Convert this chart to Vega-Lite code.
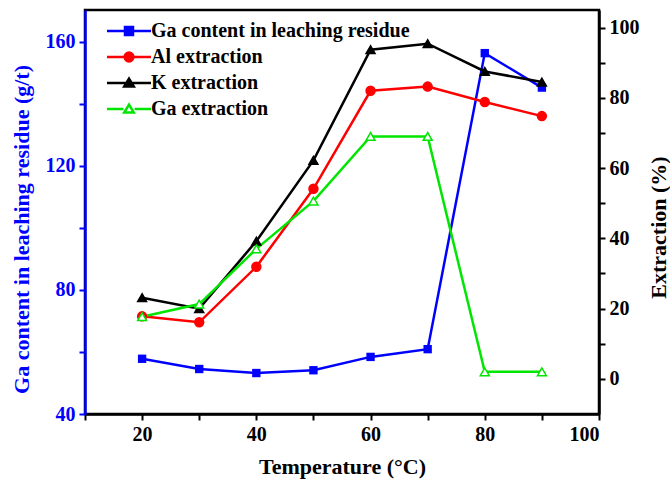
{
  "$schema": "https://vega.github.io/schema/vega-lite/v6.json",
  "width": 514,
  "height": 404,
  "autosize": "none",
  "padding": {"left": 85, "top": 10, "right": 71, "bottom": 72},
  "background": "white",
  "config": {
    "view": {"stroke": "black", "strokeWidth": 2.5},
    "font": "Liberation Serif",
    "axis": {"grid": false, "labelFont": "Liberation Serif", "titleFont": "Liberation Serif", "labelFontWeight": "bold", "titleFontWeight": "bold", "labelFontSize": 20, "titleFontSize": 22, "domainWidth": 2.5, "tickWidth": 2, "tickSize": 6}
  },
  "data": {
    "values": [
      {"T": 20, "series": "Ga content in leaching residue", "v": 57.8},
      {"T": 30, "series": "Ga content in leaching residue", "v": 54.5},
      {"T": 40, "series": "Ga content in leaching residue", "v": 53.2},
      {"T": 50, "series": "Ga content in leaching residue", "v": 54.1},
      {"T": 60, "series": "Ga content in leaching residue", "v": 58.4},
      {"T": 70, "series": "Ga content in leaching residue", "v": 60.9},
      {"T": 80, "series": "Ga content in leaching residue", "v": 156.3},
      {"T": 90, "series": "Ga content in leaching residue", "v": 145.2},
      {"T": 20, "series": "Al extraction", "v": 17.8},
      {"T": 30, "series": "Al extraction", "v": 16.1},
      {"T": 40, "series": "Al extraction", "v": 31.9},
      {"T": 50, "series": "Al extraction", "v": 54.1},
      {"T": 60, "series": "Al extraction", "v": 82.0},
      {"T": 70, "series": "Al extraction", "v": 83.2},
      {"T": 80, "series": "Al extraction", "v": 78.8},
      {"T": 90, "series": "Al extraction", "v": 74.8},
      {"T": 20, "series": "K extraction", "v": 23.1},
      {"T": 30, "series": "K extraction", "v": 20.0},
      {"T": 40, "series": "K extraction", "v": 39.2},
      {"T": 50, "series": "K extraction", "v": 62.2},
      {"T": 60, "series": "K extraction", "v": 93.7},
      {"T": 70, "series": "K extraction", "v": 95.4},
      {"T": 80, "series": "K extraction", "v": 87.5},
      {"T": 90, "series": "K extraction", "v": 84.5},
      {"T": 20, "series": "Ga extraction", "v": 17.7},
      {"T": 30, "series": "Ga extraction", "v": 21.3},
      {"T": 40, "series": "Ga extraction", "v": 37.0},
      {"T": 50, "series": "Ga extraction", "v": 50.6},
      {"T": 60, "series": "Ga extraction", "v": 69.0},
      {"T": 70, "series": "Ga extraction", "v": 69.0},
      {"T": 80, "series": "Ga extraction", "v": 2.0},
      {"T": 90, "series": "Ga extraction", "v": 2.0}
    ]
  },
  "encoding": {
    "x": {
      "field": "T", "type": "quantitative",
      "scale": {"domain": [10, 100], "nice": false, "zero": false},
      "axis": {"title": "Temperature (°C)", "values": [10, 20, 30, 40, 50, 60, 70, 80, 90, 100], "labelExpr": "datum.value % 20 == 0 ? datum.label : ''", "domainColor": "black", "tickColor": "black", "labelColor": "black", "titleColor": "black", "titlePadding": 12, "labelPadding": 4}
    }
  },
  "layer": [
    {
      "transform": [{"filter": "datum.series == 'Ga content in leaching residue'"}],
      "encoding": {
        "y": {
          "field": "v", "type": "quantitative",
          "scale": {"domain": [40, 170.2], "nice": false, "zero": false},
          "axis": {"orient": "left", "title": "Ga content in leaching residue (g/t)", "titleY": 219, "values": [40, 60, 80, 100, 120, 140, 160], "labelExpr": "datum.value % 40 == 0 ? datum.label : ''", "domainColor": "blue", "tickColor": "blue", "labelColor": "blue", "titleColor": "blue", "titlePadding": 12, "labelPadding": 4}
        }
      },
      "layer": [
        {
          "mark": {"type": "line", "strokeWidth": 2.5},
          "encoding": {
            "color": {
              "field": "series", "type": "nominal",
              "scale": {"domain": ["Ga content in leaching residue", "Al extraction", "K extraction", "Ga extraction"], "range": ["#0000ff", "#ff0000", "#000000", "#00e600"]},
              "legend": {
                "title": null, "orient": "none", "legendX": 34, "legendY": 11, "padding": 0,
                "labelFont": "Liberation Serif", "labelFontWeight": "bold", "labelFontSize": 20, "labelColor": "black", "labelLimit": 0,
                "symbolSize": 64, "rowPadding": 6, "labelOffset": 12, "symbolStrokeWidth": 2.5,
                "encode": {
                  "symbols": {
                    "update": {
                      "size": {"value": 64},
                      "strokeWidth": {"value": 2.5},
                      "shape": {"signal": "datum.value == 'Ga content in leaching residue' ? 'M-5.5,0H5.5M-1,-1H1V1H-1Z' : datum.value == 'Al extraction' ? 'M-5.5,0H5.5M1.1,0A1.1,1.1 0 1,1 -1.1,0A1.1,1.1 0 1,1 1.1,0Z' : datum.value == 'K extraction' ? 'M-5.5,0H5.5M0,-1.1L1.2,0.9L-1.2,0.9Z' : 'M-5.5,0H-1.4M1.4,0H5.5M0,-1.1L1.2,0.9L-1.2,0.9Z'"},
                      "fill": {"signal": "datum.value == 'Ga content in leaching residue' ? '#0000ff' : datum.value == 'Al extraction' ? '#ff0000' : datum.value == 'K extraction' ? '#000000' : '#ffffff'"},
                      "fillOpacity": {"value": 1}
                    }
                  }
                }
              }
            }
          }
        },
        {
          "mark": {"type": "point", "shape": "square", "size": 70, "filled": true, "opacity": 1, "color": "#0000ff"}
        }
      ]
    },
    {
      "transform": [{"filter": "datum.series != 'Ga content in leaching residue'"}],
      "encoding": {
        "y": {
          "field": "v", "type": "quantitative",
          "scale": {"domain": [-10, 105], "nice": false, "zero": false},
          "axis": {"orient": "right", "title": "Extraction (%)", "titleAngle": -90, "titleY": 217, "values": [0, 10, 20, 30, 40, 50, 60, 70, 80, 90, 100], "labelExpr": "datum.value % 20 == 0 ? datum.label : ''", "domainColor": "black", "tickColor": "black", "labelColor": "black", "titleColor": "black", "titlePadding": 31, "labelPadding": 4}
        }
      },
      "layer": [
        {
          "mark": {"type": "line", "strokeWidth": 2.5},
          "encoding": {"color": {"field": "series", "type": "nominal"}}
        },
        {
          "mark": {"type": "point", "opacity": 1, "strokeWidth": 1.5},
          "encoding": {
            "shape": {"field": "series", "type": "nominal", "scale": {"domain": ["Al extraction", "K extraction", "Ga extraction"], "range": ["circle", "triangle-up", "triangle-up"]}, "legend": null},
            "size": {"field": "series", "type": "nominal", "scale": {"domain": ["Al extraction", "K extraction", "Ga extraction"], "range": [80, 80, 90]}, "legend": null},
            "fill": {"field": "series", "type": "nominal", "scale": {"domain": ["Al extraction", "K extraction", "Ga extraction"], "range": ["#ff0000", "#000000", "#ffffff"]}, "legend": null},
            "stroke": {"field": "series", "type": "nominal", "scale": {"domain": ["Al extraction", "K extraction", "Ga extraction"], "range": ["#ff0000", "#000000", "#00e600"]}, "legend": null}
          }
        }
      ]
    }
  ],
  "resolve": {"scale": {"y": "independent", "fill": "independent", "stroke": "independent"}}
}
